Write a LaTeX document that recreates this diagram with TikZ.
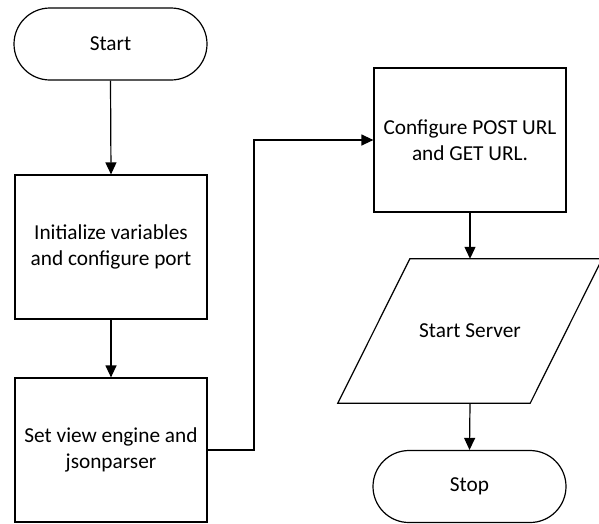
\documentclass[tikz,border=0pt]{standalone}
\usepackage{fontspec}
\setmainfont{Carlito}
\usetikzlibrary{arrows.meta}
\begin{document}
\begin{tikzpicture}[x=1pt,y=-1pt,
  every node/.style={font=\fontsize{21.3}{25.5}\selectfont, align=center, inner sep=0pt},
  proc/.style={draw, line width=1.2pt, minimum width=192pt, minimum height=144pt},
  term/.style={draw, line width=1.2pt, minimum width=193pt, minimum height=72pt, rounded corners=36pt},
  arr/.style={line width=1.2pt, -{Triangle[length=12pt,width=11pt]}},
  link/.style={line width=1.2pt}]
\useasboundingbox (0,0) rectangle (599,523);
\node[term] (start) at (110.5,44) {Start};
\node[proc] (init) at (111,247) {Initialize variables\\and configure port};
\node[proc] (setv) at (111,450) {Set view engine and\\jsonparser};
\node[proc] (conf) at (470,140) {Configure POST URL\\and GET URL.};
\node[minimum width=192pt, minimum height=144pt] (srv) at (470,331) {Start Server};
\draw[line width=1.2pt] ([xshift=36pt]srv.north west) -- ([xshift=36pt]srv.north east)
  -- ([xshift=-36pt]srv.south east) -- ([xshift=-36pt]srv.south west) -- cycle;
\node[term] (stop) at (469.5,486.5) {Stop};
\coordinate (bend) at (254,140);
\draw[arr] (start.south) -- (init.north);
\draw[arr] (init.south) -- (setv.north);
\draw[arr] (setv.east) -| (bend) -- (conf.west);
\draw[arr] (conf.south) -- (srv.north);
\draw[arr] (srv.south) -- (stop.north);
\end{tikzpicture}
\end{document}
